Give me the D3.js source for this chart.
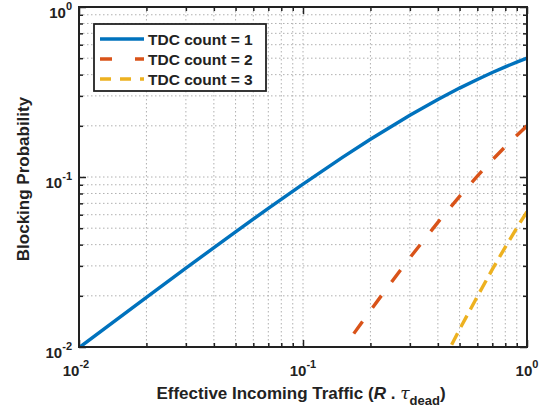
<!DOCTYPE html>
<html>
<head>
<meta charset="utf-8">
<script src="https://cdn.jsdelivr.net/npm/d3@7"></script>
<style>
  body { margin: 0; background: #fff; }
  svg { font-family: "Liberation Sans", Arial, sans-serif; font-weight: bold; }
</style>
</head>
<body>
<div id="chart"></div>
<script>
// traffic values (x) and blocking probability per TDC count
const traffic1 = [0.01, 0.02, 0.03, 0.05, 0.07, 0.1, 0.15, 0.2, 0.3, 0.4, 0.5, 0.6, 0.7, 0.8, 0.9, 1.0];
const blocking1 = [0.0099, 0.0196, 0.0291, 0.0476, 0.0654, 0.0909, 0.1304, 0.1667, 0.2308, 0.2857, 0.3333, 0.375, 0.4118, 0.4444, 0.4737, 0.5];

const traffic2 = [0.15, 0.16, 0.2, 0.25, 0.3, 0.4, 0.5, 0.6, 0.7, 0.8, 0.9, 1.0];
const blocking2 = [0.0097, 0.0109, 0.0164, 0.0244, 0.0335, 0.0541, 0.0769, 0.1011, 0.126, 0.1509, 0.1757, 0.2];

const traffic3 = [0.45, 0.5, 0.6, 0.7, 0.8, 0.9, 1.0];
const blocking3 = [0.0097, 0.0127, 0.0198, 0.0286, 0.0387, 0.0501, 0.0625];

const seriesNames = ["TDC count = 1", "TDC count = 2", "TDC count = 3"];
const decadeTicks = [0.01, 0.1, 1];
const tickExponents = ["-2", "-1", "0"];

const W = 553, H = 414;
const m = { left: 79, right: 26, top: 7, bottom: 67 };
const iw = W - m.left - m.right, ih = H - m.top - m.bottom;

const svg = d3.select("#chart").append("svg")
  .attr("width", W).attr("height", H);

const x = d3.scaleLog().domain([0.01, 1]).range([0, iw]);
const y = d3.scaleLog().domain([0.01, 1]).range([ih, 0]);

const g = svg.append("g").attr("transform", `translate(${m.left},${m.top})`);

// all ticks (major + minor) for grid
const minorTicks = [];
[0.01, 0.1].forEach(d => { for (let k = 1; k < 10; k++) minorTicks.push(d * k); });
minorTicks.push(1);

// grid
g.append("g").selectAll("line.gx").data(minorTicks.slice(1, -1)).enter().append("line")
  .attr("x1", d => x(d)).attr("x2", d => x(d)).attr("y1", 0).attr("y2", ih)
  .attr("stroke", "#b0b0b0").attr("stroke-width", 1).attr("stroke-dasharray", "1.5,2.5");
g.append("g").selectAll("line.gy").data(minorTicks.slice(1, -1)).enter().append("line")
  .attr("y1", d => y(d)).attr("y2", d => y(d)).attr("x1", 0).attr("x2", iw)
  .attr("stroke", "#b0b0b0").attr("stroke-width", 1).attr("stroke-dasharray", "1.5,2.5");

// axes ticks (inward) on all four sides
const isMajor = d => decadeTicks.some(t => Math.abs(t - d) < 1e-9);
const tickLen = d => isMajor(d) ? 7 : 4;
function ticks(axisGen, tr) {
  const a = g.append("g").attr("transform", tr)
    .call(axisGen.tickValues(minorTicks).tickFormat("").tickSizeOuter(0));
  a.select(".domain").remove();
  a.selectAll(".tick line").attr("stroke", "#222").attr("stroke-width", 1.5);
  return a;
}
ticks(d3.axisBottom(x), `translate(0,${ih})`).selectAll(".tick line").attr("y2", d => -tickLen(d));
ticks(d3.axisTop(x), `translate(0,0)`).selectAll(".tick line").attr("y2", d => tickLen(d));
ticks(d3.axisLeft(y), `translate(0,0)`).selectAll(".tick line").attr("x2", d => tickLen(d));
ticks(d3.axisRight(y), `translate(${iw},0)`).selectAll(".tick line").attr("x2", d => -tickLen(d));

// clip
svg.append("defs").append("clipPath").attr("id", "clip")
  .append("rect").attr("width", iw).attr("height", ih);

const line = d3.line().x(d => x(d[0])).y(d => y(d[1]));
const series = [
  { xs: traffic1, ys: blocking1, color: "#0072BD", dash: null, legDash: null },
  { xs: traffic2, ys: blocking2, color: "#D95319", dash: [15, 17], legDash: "12,23" },
  { xs: traffic3, ys: blocking3, color: "#EDB120", dash: [13, 7], legDash: "11,9" }
];
const plot = g.append("g").attr("clip-path", "url(#clip)");
series.forEach(s => {
  const p = plot.append("path")
    .datum(s.xs.map((v, i) => [v, s.ys[i]]))
    .attr("d", line)
    .attr("fill", "none")
    .attr("stroke", s.color)
    .attr("stroke-width", 3.4);
  if (s.dash) {
    // phase the dashes so a dash finishes at the right end of the line
    const L = p.node().getTotalLength();
    const period = s.dash[0] + s.dash[1];
    const off = ((s.dash[0] - (L % period)) % period + period) % period;
    p.attr("stroke-dasharray", s.dash.join(",")).attr("stroke-dashoffset", off);
  }
});

// frame
g.append("rect").attr("width", iw).attr("height", ih)
  .attr("fill", "none").attr("stroke", "#222").attr("stroke-width", 2);

// tick labels
function powLabel(sel, exp) {
  sel.append("tspan").text("10");
  sel.append("tspan").attr("dy", -8).attr("font-size", 11).text(exp);
}
decadeTicks.forEach((d, i) => {
  const tx = g.append("text")
    .attr("x", x(d) + (i === 0 ? -3 : 0)).attr("y", ih + 29)
    .attr("text-anchor", "middle").attr("font-size", 15).attr("fill", "#222");
  powLabel(tx, tickExponents[i]);
  const ty = g.append("text")
    .attr("x", -7).attr("y", y(d) + 11)
    .attr("text-anchor", "end").attr("font-size", 15).attr("fill", "#222");
  powLabel(ty, tickExponents[i]);
});

// axis labels
const xl = svg.append("text")
  .attr("x", 301).attr("y", 399)
  .attr("text-anchor", "middle").attr("font-size", 17).attr("fill", "#222");
xl.append("tspan").text("Effective Incoming Traffic (");
xl.append("tspan").attr("font-style", "italic").text("R");
xl.append("tspan").text("  . ");
xl.append("tspan").attr("font-style", "italic").attr("font-weight", "normal").attr("font-family", "DejaVu Serif").text("τ");
xl.append("tspan").attr("dy", 6).attr("font-size", 13).text("dead");
xl.append("tspan").attr("dy", -6).text(")");

svg.append("text")
  .attr("transform", `translate(29,179) rotate(-90)`)
  .attr("text-anchor", "middle").attr("font-size", 17).attr("fill", "#222")
  .text("Blocking Probability");

// legend
const lg = g.append("g").attr("transform", "translate(15,17)");
lg.append("rect").attr("width", 172).attr("height", 67)
  .attr("fill", "#fff").attr("stroke", "#222").attr("stroke-width", 1.8);
series.forEach((s, i) => {
  const yy = 15 + i * 20;
  lg.append("line").attr("x1", 6).attr("x2", 50).attr("y1", yy).attr("y2", yy)
    .attr("stroke", s.color).attr("stroke-width", 3.4)
    .attr("stroke-dasharray", s.legDash);
  lg.append("text").attr("x", 54).attr("y", yy + 5.5)
    .attr("font-size", 15.5).attr("fill", "#222").text(seriesNames[i]);
});
</script>
</body>
</html>
